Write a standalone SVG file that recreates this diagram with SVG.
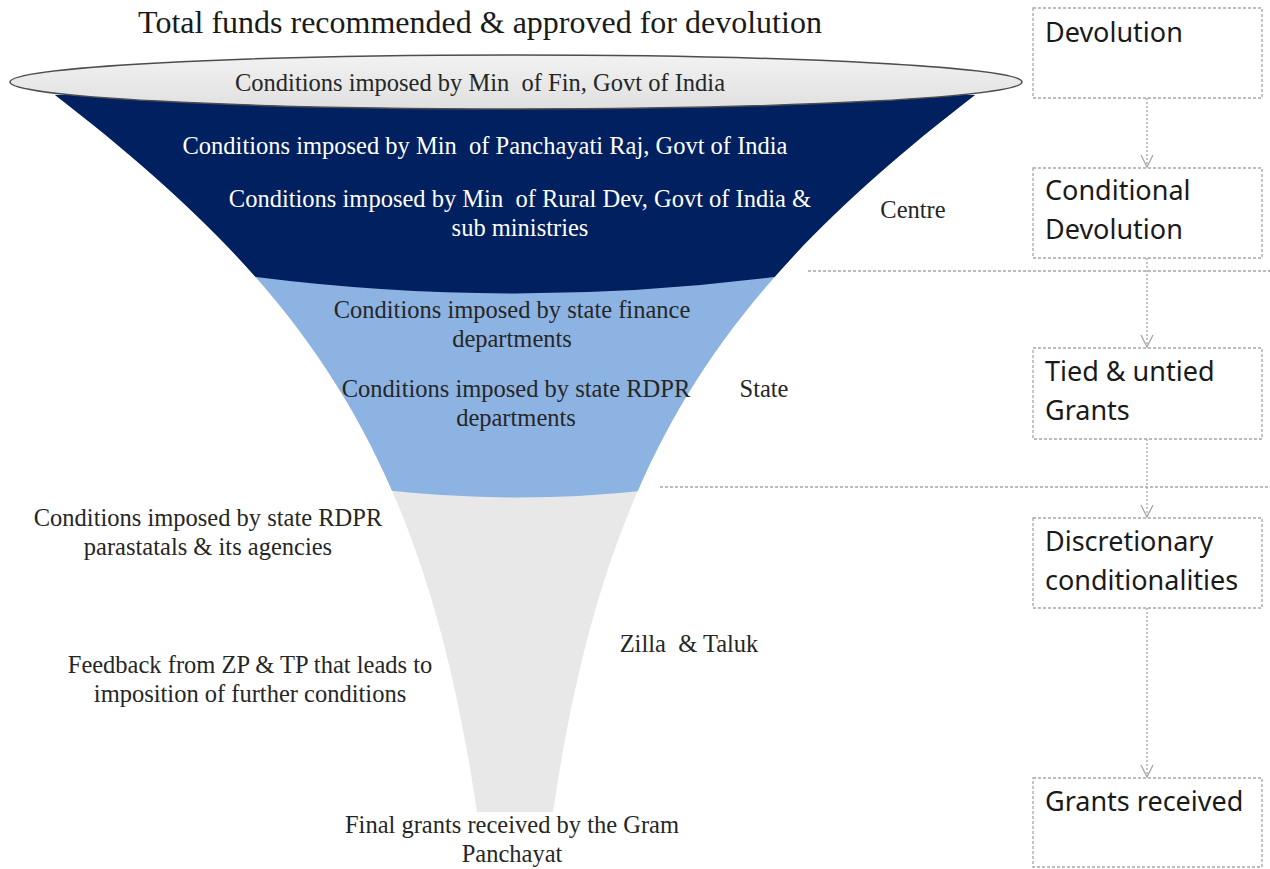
<svg xmlns="http://www.w3.org/2000/svg" width="1270" height="869" viewBox="0 0 1270 869">
<style>
.serif{font-family:"Liberation Serif","Times New Roman",serif;font-size:24.5px;text-anchor:middle;fill:#262626;white-space:pre}
.white{fill:#ffffff}
.title{font-size:32px;fill:#1a1a1a}
.box{fill:#ffffff;stroke:#a6a6a6;stroke-width:1.3;stroke-dasharray:3 2}
.btxt{font-family:"Noto Sans","Liberation Sans",sans-serif;font-size:27px;fill:#1a1a1a}
.conn{stroke:#a6a6a6;stroke-width:1.3;stroke-dasharray:2 2;fill:none}
.sep{stroke:#a6a6a6;stroke-width:1.3;stroke-dasharray:3 2;fill:none}
</style>
<defs>
<marker id="arr" viewBox="0 0 14 14" refX="13" refY="7" markerWidth="14" markerHeight="14" markerUnits="userSpaceOnUse" orient="auto">
<path d="M1,1 L13,7 L1,13" fill="none" stroke="#a6a6a6" stroke-width="1.3"/>
</marker>
<clipPath id="funnelClip">
<path d="M55,95 C315,295 425,462 477,812 L553,812 C605,462 715,295 975,95 Z"/>
</clipPath>
<linearGradient id="ellg" x1="0" y1="0" x2="0" y2="1">
<stop offset="0" stop-color="#f2f2f2"/>
<stop offset="1" stop-color="#e0e0e0"/>
</linearGradient>
</defs>

<text class="serif title" x="480" y="33">Total funds recommended &amp; approved for devolution</text>

<g id="funnel">
<g clip-path="url(#funnelClip)">
<rect x="0" y="90" width="1030" height="730" fill="#e8e8e8"/>
<path d="M0,90 H1030 V490 H650 Q517,505 384,490 H0 Z" fill="#8db3e2"/>
<path d="M0,90 H1030 V275 H790 Q515,312 240,275 H0 Z" fill="#002060"/>
</g>
<ellipse cx="516" cy="82" rx="506" ry="27" fill="url(#ellg)" stroke="#4d4d4d" stroke-width="1.5"/>
</g>

<g id="centre-labels">
<text class="serif" x="480" y="91" xml:space="preserve">Conditions imposed by Min  of Fin, Govt of India</text>
<text class="serif white" x="485" y="154" xml:space="preserve">Conditions imposed by Min  of Panchayati Raj, Govt of India</text>
<text class="serif white" x="520" y="207" xml:space="preserve">Conditions imposed by Min  of Rural Dev, Govt of India &amp;</text>
<text class="serif white" x="520" y="236">sub ministries</text>
<text class="serif" x="913" y="218">Centre</text>
</g>

<g id="state-labels">
<text class="serif" x="512" y="318">Conditions imposed by state finance</text>
<text class="serif" x="512" y="347">departments</text>
<text class="serif" x="516" y="397">Conditions imposed by state RDPR</text>
<text class="serif" x="516" y="426">departments</text>
<text class="serif" x="764" y="397">State</text>
</g>

<g id="zilla-labels">
<text class="serif" x="208" y="526">Conditions imposed by state RDPR</text>
<text class="serif" x="208" y="555">parastatals &amp; its agencies</text>
<text class="serif" x="689" y="652" xml:space="preserve">Zilla  &amp; Taluk</text>
<text class="serif" x="250" y="673">Feedback from ZP &amp; TP that leads to</text>
<text class="serif" x="250" y="702">imposition of further conditions</text>
<text class="serif" x="512" y="833">Final grants received by the Gram</text>
<text class="serif" x="512" y="862">Panchayat</text>
</g>

<g id="separators">
<line class="sep" x1="808" y1="271" x2="1270" y2="271"/>
<line class="sep" x1="660" y1="487" x2="1270" y2="487"/>
</g>

<g id="connectors">
<line class="conn" x1="1147" y1="98" x2="1147" y2="167" marker-end="url(#arr)"/>
<line class="conn" x1="1147" y1="258" x2="1147" y2="347" marker-end="url(#arr)"/>
<line class="conn" x1="1147" y1="439" x2="1147" y2="517" marker-end="url(#arr)"/>
<line class="conn" x1="1147" y1="608" x2="1147" y2="777" marker-end="url(#arr)"/>
</g>

<g id="box-devolution">
<rect class="box" x="1033" y="8" width="229" height="90"/>
<text class="btxt" x="1045" y="42">Devolution</text>
</g>
<g id="box-conditional">
<rect class="box" x="1033" y="168" width="229" height="90"/>
<text class="btxt" x="1045" y="200">Conditional</text>
<text class="btxt" x="1045" y="239">Devolution</text>
</g>
<g id="box-tied">
<rect class="box" x="1033" y="348" width="229" height="91"/>
<text class="btxt" x="1045" y="381">Tied &amp; untied</text>
<text class="btxt" x="1045" y="420">Grants</text>
</g>
<g id="box-discretionary">
<rect class="box" x="1033" y="518" width="229" height="90"/>
<text class="btxt" x="1045" y="551">Discretionary</text>
<text class="btxt" x="1045" y="590">conditionalities</text>
</g>
<g id="box-grants">
<rect class="box" x="1033" y="778" width="229" height="89"/>
<text class="btxt" x="1045" y="811">Grants received</text>
</g>
</svg>
